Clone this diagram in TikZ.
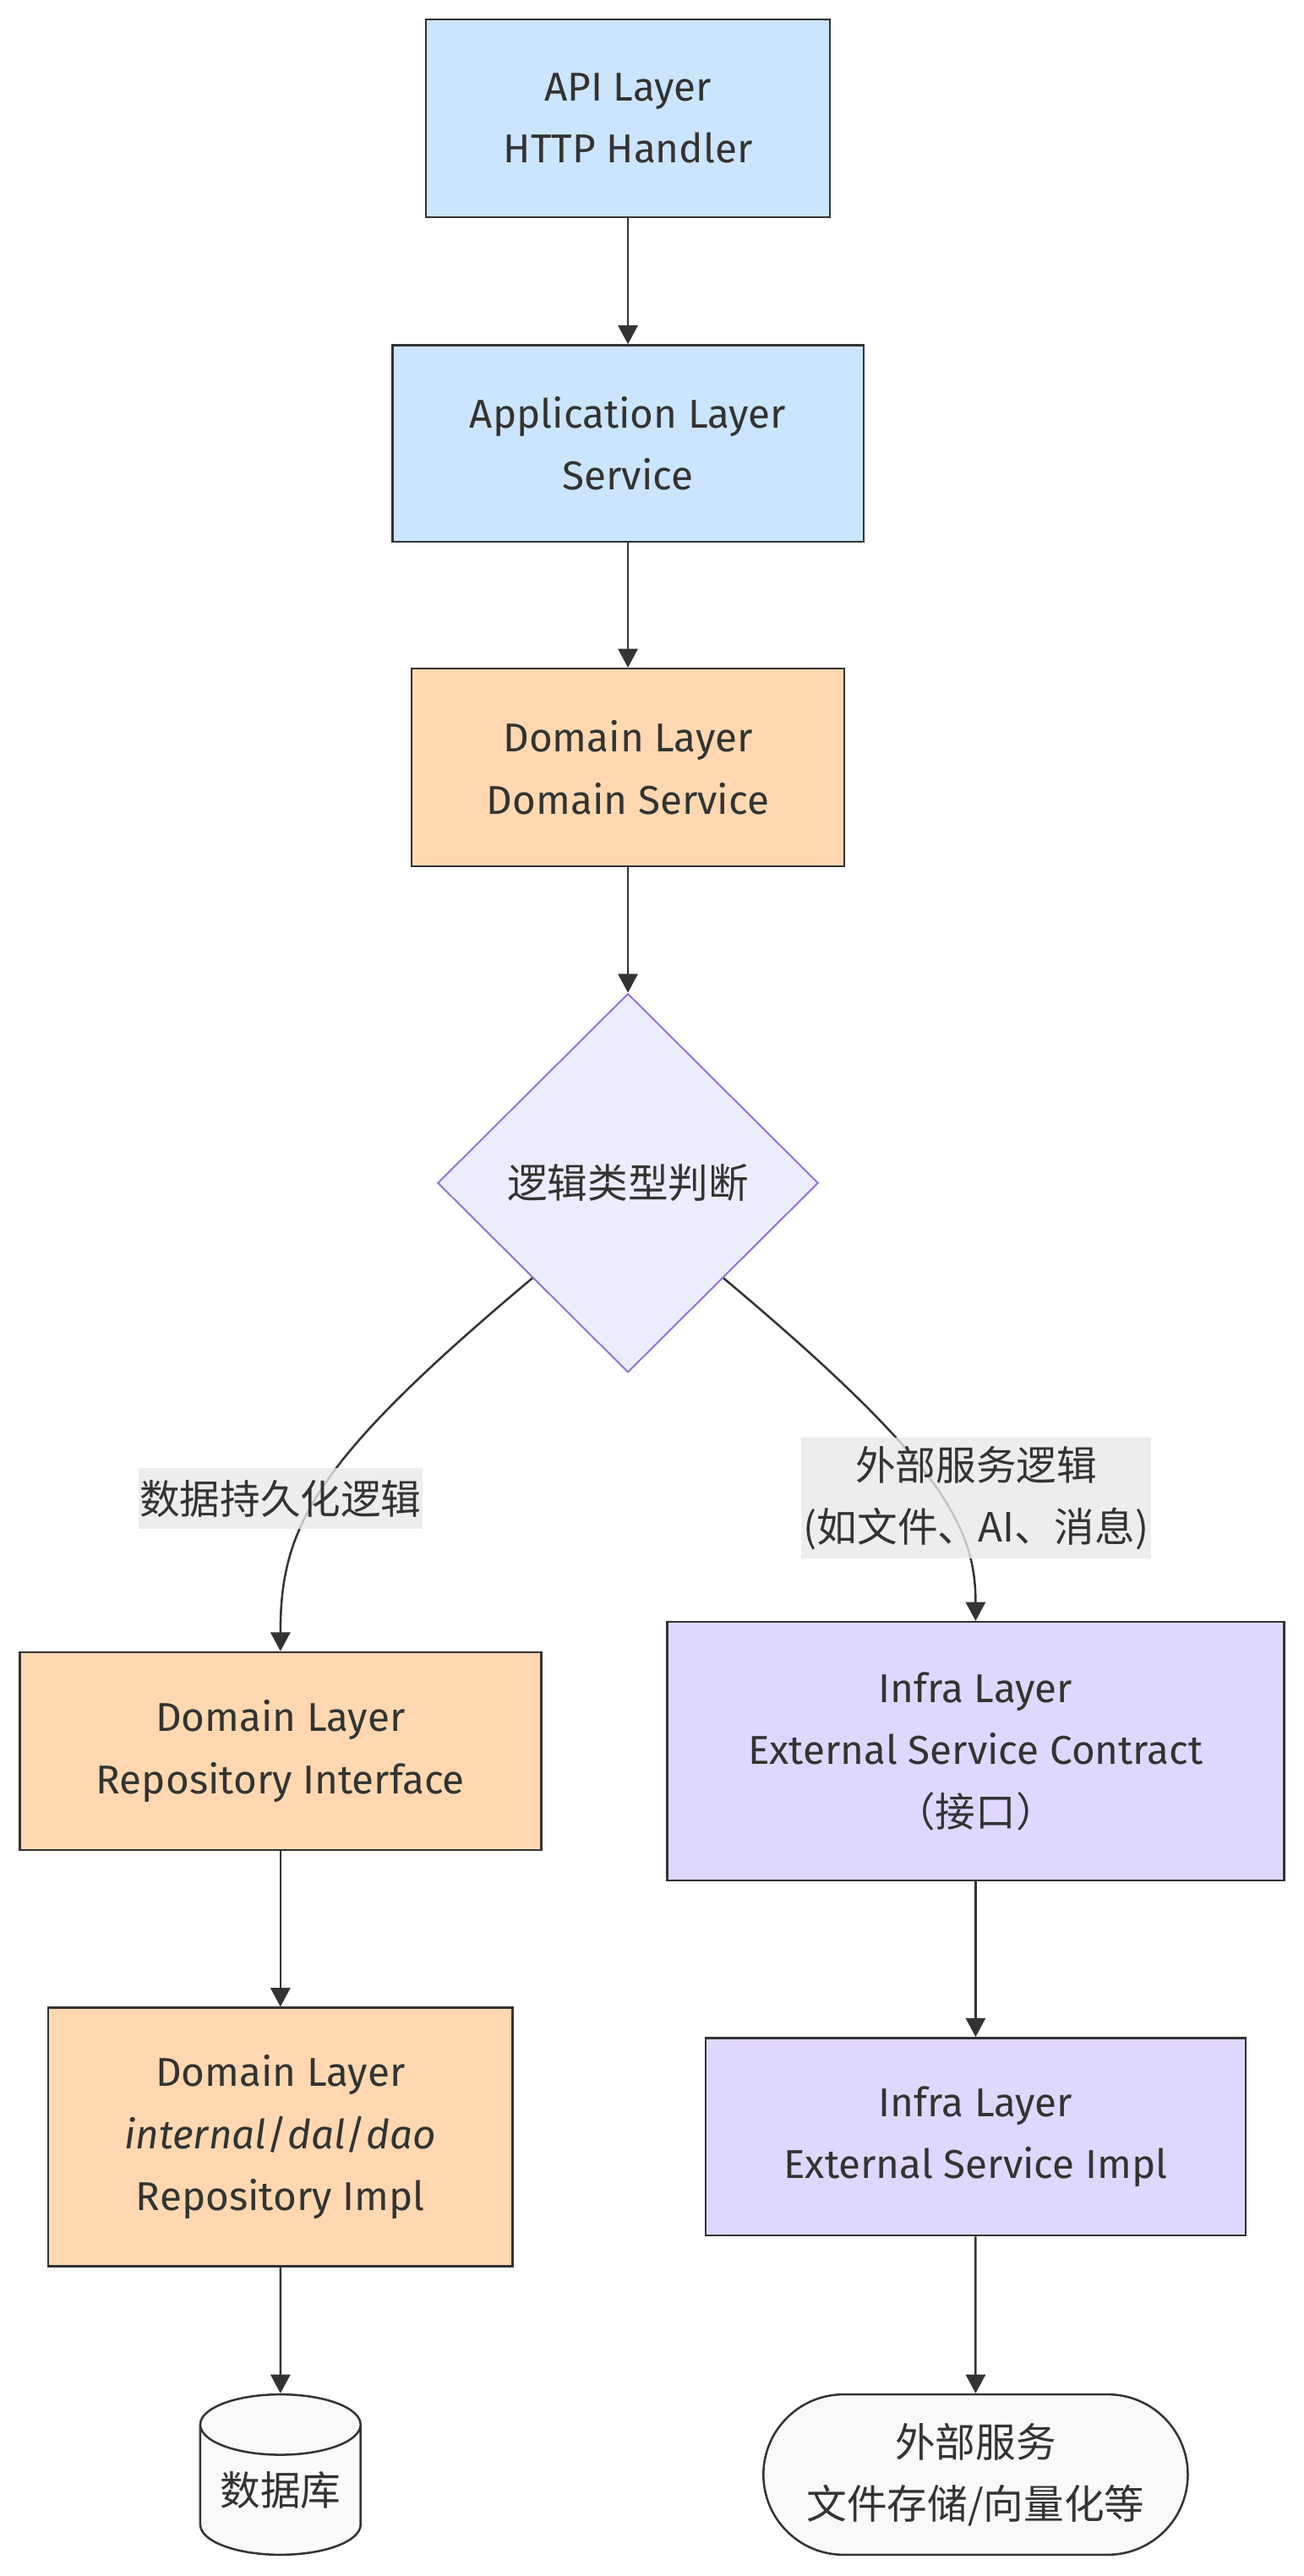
\documentclass[tikz,border=0pt]{standalone}
\usepackage{fontspec}
\setmainfont{Fira Sans}
\newfontfamily\cjk{Noto Sans CJK SC}
\usetikzlibrary{shapes.geometric,shapes.misc,arrows.meta}
\definecolor{ink}{HTML}{333333}
\definecolor{apiblue}{HTML}{CCE5FF}
\definecolor{domorange}{HTML}{FFD8B1}
\definecolor{infrapurple}{HTML}{E0D7FF}
\definecolor{judgefill}{HTML}{ECECFF}
\definecolor{judgeline}{HTML}{9370DB}
\definecolor{labelgray}{HTML}{E8E8E8}
\definecolor{storefill}{HTML}{F9F9F9}
\begin{document}
\begin{tikzpicture}[x=1pt,y=-1pt,
    every node/.style={text=ink,align=center,inner sep=0pt,font=\fontsize{24.6}{38}\selectfont},
    layer/.style={rectangle,draw=ink,line width=1.3pt},
    apibox/.style={layer,fill=apiblue},
    dombox/.style={layer,fill=domorange},
    infrabox/.style={layer,fill=infrapurple},
    flow/.style={draw=ink,line width=1.3pt,-{Triangle[length=11.5pt,width=12pt]}},
    edgelabel/.style={fill=labelgray,fill opacity=0.8,text opacity=1}]

        \useasboundingbox (0,0) rectangle (797,1574.4);

        \node[apibox,minimum width=246.7pt,minimum height=120.7pt] (api)  at (383.8,72.3) {API Layer\\HTTP Handler};
        \node[apibox,minimum width=288pt,minimum height=120pt]     (app)  at (383.8,271)  {Application Layer\\Service};
        \node[dombox,minimum width=264.3pt,minimum height=120.7pt] (dsvc) at (383.8,469)  {Domain Layer\\Domain Service};
        \node[diamond,draw=judgeline,fill=judgefill,line width=1pt,minimum width=232.6pt,minimum height=231.6pt]
              (judge) at (383.8,723) {\cjk 逻辑类型判断};

        \node[dombox,minimum width=318.7pt,minimum height=121pt] (repoif)   at (171.4,1070.3) {Domain Layer\\Repository Interface};
        \node[dombox,minimum width=284pt,minimum height=158pt]   (repoimpl) at (171.4,1306.1)
              {Domain Layer\\\textit{internal}/\textit{dal}/\textit{dao}\\Repository Impl};
        \node[infrabox,minimum width=377.2pt,minimum height=158pt] (contract) at (596.3,1070.3)
              {Infra Layer\\External Service Contract\\{\cjk （接口）}};
        \node[infrabox,minimum width=330pt,minimum height=120.7pt] (extimpl)  at (596.3,1305.9) {Infra Layer\\External Service Impl};

        \node[cylinder,shape border rotate=90,aspect=0.5,draw=ink,fill=storefill,line width=1.3pt,
              minimum width=98pt,minimum height=98pt,anchor=shape center] (db) at (171.4,1512.4) {\cjk 数据库};
        \node[rounded rectangle,draw=ink,fill=storefill,line width=1.3pt,
              minimum width=259.4pt,minimum height=98pt] (ext) at (596.3,1512.4) {\cjk 外部服务\\\cjk 文件存储/向量化等};

        \draw[flow] (api) -- (app);
        \draw[flow] (app) -- (dsvc);
        \draw[flow] (dsvc) -- (judge);
        \draw[flow] (judge.south west) .. controls (192,893) and (171.4,933) .. (repoif.north);
        \draw[flow] (judge.south east) .. controls (575.6,893) and (596.3,933) .. (contract.north);
        \draw[flow] (repoif) -- (repoimpl);
        \draw[flow] (contract) -- (extimpl);
        \draw[flow] (repoimpl) -- (db);
        \draw[flow] (extimpl) -- (ext);

        \node[edgelabel,minimum width=173.4pt,minimum height=36.8pt] (persist)  at (171.4,915.8) {\cjk 数据持久化逻辑};
        \node[edgelabel,minimum width=213.6pt,minimum height=74.2pt] (external) at (596.6,915.6)
              {\cjk 外部服务逻辑\\\cjk (如文件、AI、消息)};
\end{tikzpicture}
\end{document}
